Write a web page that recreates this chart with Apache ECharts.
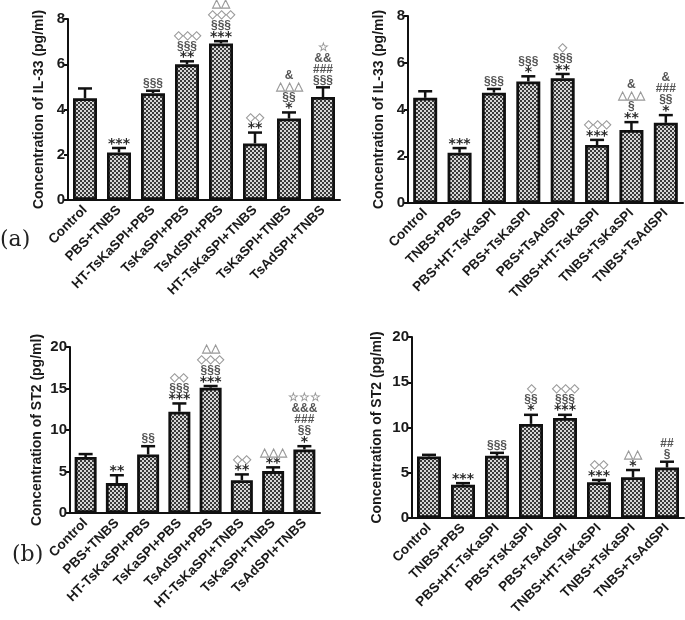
<!DOCTYPE html>
<html><head><meta charset="utf-8">
<script src="https://cdn.jsdelivr.net/npm/echarts@6/dist/echarts.min.js"></script>
<style>html,body{margin:0;padding:0;background:#fff}#c{width:685px;height:620px}</style>
</head><body><div id="c"></div>
<script>
// ---- data ----
const catsLeft = ['Control','PBS+TNBS','HT-TsKaSPI+PBS','TsKaSPI+PBS','TsAdSPI+PBS','HT-TsKaSPI+TNBS','TsKaSPI+TNBS','TsAdSPI+TNBS'];
const catsRight = ['Control','TNBS+PBS','PBS+HT-TsKaSPI','PBS+TsKaSPI','PBS+TsAdSPI','TNBS+HT-TsKaSPI','TNBS+TsKaSPI','TNBS+TsAdSPI'];

const il33LeftMean = [4.50, 2.10, 4.72, 6.00, 6.92, 2.50, 3.60, 4.55];
const il33LeftTop  = [4.93, 2.30, 4.83, 6.13, 7.02, 2.98, 3.87, 4.98];
const il33RightMean = [4.50, 2.15, 4.72, 5.20, 5.34, 2.48, 3.12, 3.43];
const il33RightTop  = [4.78, 2.35, 4.88, 5.42, 5.52, 2.70, 3.46, 3.76];
const st2LeftMean = [6.75, 3.60, 7.05, 12.20, 15.10, 3.95, 5.05, 7.65];
const st2LeftTop  = [7.10, 4.55, 8.05, 13.20, 15.30, 4.65, 5.50, 8.05];
const st2RightMean = [6.80, 3.68, 6.88, 10.40, 11.05, 3.95, 4.50, 5.58];
const st2RightTop  = [6.98, 3.85, 7.20, 11.40, 11.40, 4.20, 5.30, 6.22];

const il33LeftNotes = [[], ['***'], ['§§§'], ['◇◇◇','§§§','**'], ['△△','◇◇◇','§§§','***'], ['◇◇','**'], ['&','△△△','§§','*'], ['☆','&&','###','§§§']];
const il33RightNotes = [[], ['***'], ['§§§'], ['§§§','*'], ['◇','§§§','**'], ['◇◇◇','***'], ['&','△△△','§','**'], ['&','###','§§','*']];
const st2LeftNotes = [[], ['**'], ['§§'], ['◇◇','§§§','***'], ['△△','◇◇◇','§§§','***'], ['◇◇','**'], ['△△△','**'], ['☆☆☆','&&&','###','§§','*']];
const st2RightNotes = [[], ['***'], ['§§§'], ['◇','§§','*'], ['◇◇◇','§§§','***'], ['◇◇','***'], ['△△','*'], ['##','§']];

const yTitleIL33 = 'Concentration of IL-33 (pg/ml)';
const yTitleST2 = 'Concentration of ST2 (pg/ml)';

// ---- pattern ----
const pc = document.createElement('canvas');
pc.width = 4; pc.height = 4;
const pctx = pc.getContext('2d');
pctx.fillStyle = '#d6d6d6'; pctx.fillRect(0,0,4,4);
pctx.fillStyle = '#3a3a3a';
pctx.fillRect(0,0,2,2); pctx.fillRect(2,2,2,2);
const barFill = {image: pc, repeat: 'repeat'};

const FONT = '"Liberation Sans", Arial, sans-serif';
function noteColor(t){
  if (/[◇△☆]/.test(t)) return '#9a9a9a';
  if (/\*/.test(t)) return '#2a2a2a';
  return '#555';
}
function noteFont(t){
  if (/\*/.test(t)) return 'bold 14px "DejaVu Sans", sans-serif';
  return 'bold 12px ' + FONT;
}

const grids = [
  {left: 68, top: 19, width: 272, height: 181},
  {left: 408, top: 16, width: 275, height: 187},
  {left: 70, top: 347, width: 250, height: 166},
  {left: 412, top: 337, width: 272, height: 181}
];
const panels = [
  {cats: catsLeft, mean: il33LeftMean, top: il33LeftTop, notes: il33LeftNotes, max: 8, interval: 2, title: yTitleIL33, gap: 22, bw: 24},
  {cats: catsRight, mean: il33RightMean, top: il33RightTop, notes: il33RightNotes, max: 8, interval: 2, title: yTitleIL33, gap: 22, bw: 24},
  {cats: catsLeft, mean: st2LeftMean, top: st2LeftTop, notes: st2LeftNotes, max: 20, interval: 5, title: yTitleST2, gap: 26, bw: 22},
  {cats: catsRight, mean: st2RightMean, top: st2RightTop, notes: st2RightNotes, max: 20, interval: 5, title: yTitleST2, gap: 28, bw: 24}
];

const xAxes = [], yAxes = [], series = [];
panels.forEach((p, gi) => {
  xAxes.push({
    type: 'category', gridIndex: gi, data: p.cats,
    axisLine: {lineStyle: {color: '#111', width: 2}},
    axisTick: {alignWithLabel: true, length: 5, lineStyle: {color: '#111', width: 2}},
    axisLabel: {rotate: 45, fontFamily: FONT, fontWeight: 'bold', fontSize: 13.5, color: '#1a1a1a', margin: 8, interval: 0}
  });
  yAxes.push({
    type: 'value', gridIndex: gi, min: 0, max: p.max, interval: p.interval,
    name: p.title, nameLocation: 'middle', nameGap: p.gap,
    nameTextStyle: {fontFamily: FONT, fontWeight: 'bold', fontSize: 14, color: '#1a1a1a'},
    axisLine: {show: true, lineStyle: {color: '#111', width: 2}},
    axisTick: {show: true, length: 4, lineStyle: {color: '#111', width: 2}},
    axisLabel: {fontFamily: FONT, fontWeight: 'bold', fontSize: 15, color: '#1a1a1a', margin: 3},
    splitLine: {show: false}
  });
  series.push({
    type: 'bar', xAxisIndex: gi, yAxisIndex: gi, data: p.mean, barWidth: p.bw,
    itemStyle: {color: barFill, borderColor: '#111', borderWidth: 2.8},
    animation: false, silent: true
  });
  const notes = p.notes;
  series.push({
    type: 'custom', xAxisIndex: gi, yAxisIndex: gi, z: 5, animation: false, silent: true,
    data: p.mean.map((m, i) => [i, m, p.top[i]]),
    renderItem: function(params, api){
      const i = api.value(0);
      const a = api.coord([i, api.value(1)]);
      const b = api.coord([i, api.value(2)]);
      const ch = [
        {type: 'line', shape: {x1: a[0], y1: a[1], x2: b[0], y2: b[1]}, style: {stroke: '#111', lineWidth: 2.5}},
        {type: 'line', shape: {x1: b[0]-7, y1: b[1], x2: b[0]+7, y2: b[1]}, style: {stroke: '#111', lineWidth: 2.5}}
      ];
      const lines = notes[i];
      let y = b[1] - 1;
      for (let k = 0; k < lines.length; k++) {
        const t = lines[lines.length-1-k];
        const isStar = /\*/.test(t);
        ch.push({type: 'text', style: {text: t, x: b[0], y: isStar ? y + 4 : y, align: 'center', verticalAlign: 'bottom',
          font: noteFont(t), fill: noteColor(t)}});
        y -= isStar ? 8 : 11;
      }
      return {type: 'group', children: ch};
    }
  });
});

const chart = echarts.init(document.getElementById('c'), null, {renderer: 'canvas'});
chart.setOption({
  animation: false,
  grid: grids,
  xAxis: xAxes,
  yAxis: yAxes,
  series: series,
  graphic: [
    {type: 'text', left: 0, top: 229, style: {text: '(a)', font: '22px "DejaVu Serif", serif', fill: '#222'}},
    {type: 'text', left: 12, top: 544, style: {text: '(b)', font: '22px "DejaVu Serif", serif', fill: '#222'}}
  ]
});
</script></body></html>
